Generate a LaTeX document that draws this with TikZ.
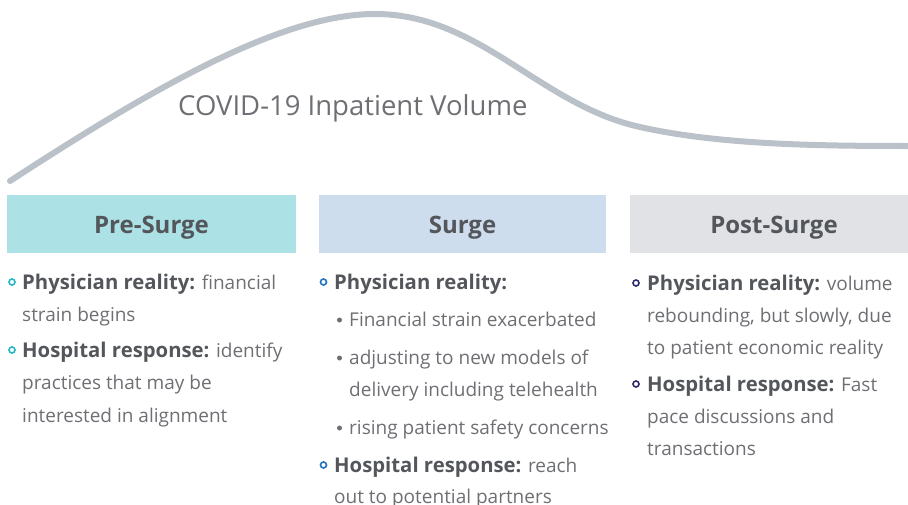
\documentclass[tikz,border=0pt]{standalone}
\usepackage{fontspec}
\setmainfont{Open Sans}
\definecolor{curvegray}{HTML}{BAC1C8}
\definecolor{bodygray}{HTML}{6D6F73}
\definecolor{boldgray}{HTML}{53565B}
\definecolor{preC}{HTML}{ACE1E6}
\definecolor{surC}{HTML}{CEDDED}
\definecolor{postC}{HTML}{E1E2E6}
\definecolor{bulTeal}{HTML}{22B5C9}
\definecolor{bulBlue}{HTML}{1F73C0}
\definecolor{bulNavy}{HTML}{2E2A6B}
\tikzset{
  txt/.style={anchor=base west, inner sep=0pt, font=\fontsize{19}{23}\selectfont, text=bodygray},
  phase/.style={anchor=base, inner sep=0pt, font=\bfseries\fontsize{24}{28}\selectfont, text=boldgray},
  ring/.style={draw=#1, line width=1.6pt, circle, inner sep=0pt, minimum size=6pt},
  dotb/.style={fill=bodygray, circle, inner sep=0pt, minimum size=5pt},
}
\newcommand{\bt}[1]{{\bfseries\fontsize{20.3}{23}\selectfont\color{boldgray}#1}}
\begin{document}
\begin{tikzpicture}[x=1pt,y=-1pt]
\useasboundingbox (0,0) rectangle (908,504);
% curve
\draw[curvegray, line width=6pt, line cap=round]
  (10,181) .. controls (150,90) and (280,14) .. (375,14)
  .. controls (480,14) and (540,105) .. (640,127)
  .. controls (720,145) and (820,146) .. (912,146);
\node[anchor=base west, inner sep=0pt, font=\fontsize{27.5}{30}\selectfont, text=bodygray] (covid) at (178,115) {COVID-19 Inpatient Volume};
% boxes
\fill[preC] (7,195) rectangle (296,253);
\fill[surC] (319,195) rectangle (606,253);
\fill[postC] (630,195) rectangle (910,253);
\node[phase] (pre) at (151.5,233) {Pre-Surge};
\node[phase] (sur) at (462.5,233) {Surge};
\node[phase] (post) at (774,233) {Post-Surge};
% pre-surge
\node[ring=bulTeal] (r1) at (12,282) {};
\node[txt] (p1) at (22,289) {\bt{Physician reality:} financial};
\node[txt] (p2) at (22,321) {strain begins};
\node[ring=bulTeal] (r2) at (12,350) {};
\node[txt] (p3) at (22,357) {\bt{Hospital response:} identify};
\node[txt] (p4) at (22,389) {practices that may be};
\node[txt] (p5) at (22,422) {interested in alignment};
% surge
\node[ring=bulBlue] (r3) at (323.5,282) {};
\node[txt] (s1) at (334,289) {\bt{Physician reality:}};
\node[dotb] (d1) at (339.5,320) {};
\node[txt] (s2) at (349,326) {Financial strain exacerbated};
\node[dotb] (d2) at (339.5,358) {};
\node[txt] (s3) at (349,364) {adjusting to new models of};
\node[txt] (s4) at (349,396) {delivery including telehealth};
\node[dotb] (d3) at (339.5,428) {};
\node[txt] (s5) at (349,434) {rising patient safety concerns};
\node[ring=bulBlue] (r4) at (323.5,465) {};
\node[txt] (s6) at (334,472) {\bt{Hospital response:} reach};
\node[txt] (s7) at (334,503) {out to potential partners};
% post-surge
\node[ring=bulNavy] (r5) at (636,283) {};
\node[txt] (q1) at (647,290) {\bt{Physician reality:} volume};
\node[txt] (q2) at (647,322) {rebounding, but slowly, due};
\node[txt] (q3) at (647,354) {to patient economic reality};
\node[ring=bulNavy] (r6) at (636,384) {};
\node[txt] (q4) at (647,391) {\bt{Hospital response:} Fast};
\node[txt] (q5) at (647,423) {pace discussions and};
\node[txt] (q6) at (647,455) {transactions};
\end{tikzpicture}
\end{document}
